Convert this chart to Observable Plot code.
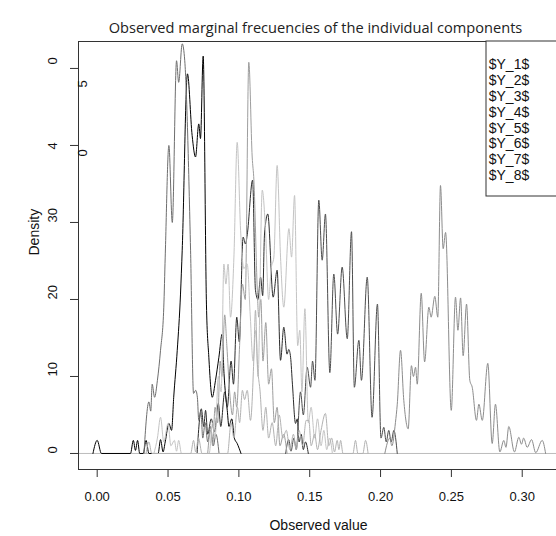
<!DOCTYPE html>
<html><head><meta charset="utf-8">
<script src="https://cdn.jsdelivr.net/npm/d3@7"></script>
<script src="https://cdn.jsdelivr.net/npm/@observablehq/plot@0.6"></script>
<style>
html,body{margin:0;padding:0;background:#fff;}
#chart{width:556px;height:536px;overflow:hidden;position:relative;}
#chart svg{max-width:none !important;}
</style></head><body><div id="chart"></div>
<script>
// ---- data ----
const seriesNames = ["$Y_1$","$Y_2$","$Y_3$","$Y_4$","$Y_5$","$Y_6$","$Y_7$","$Y_8$"];
const seriesColors = ["#000000","#2b2b2b","#4d4d4d","#8c8c8c","#6e6e6e","#9e9e9e","#c4c4c4","#b2b2b2"];

// [observed value, density] vertices at peaks and troughs
const Y1 = [[-0.003,0],[0,1.7],[0.003,0],[0.0235,0],[0.0255,1.7],[0.027,0.4],[0.0285,1.7],[0.030,0],[0.0325,0],[0.0345,1.7],[0.0365,0],[0.043,0],[0.0447,1.8],[0.0465,0.2],[0.048,1.5],[0.0506,3.9],[0.0525,3],[0.054,7.3],[0.0565,13.4],[0.0588,20.7],[0.060,26.4],[0.0637,49.3],[0.067,41.3],[0.0694,38.5],[0.0717,42.8],[0.0729,40.9],[0.0748,51.6],[0.0771,19.4],[0.0788,12.5],[0.0812,7.3],[0.0835,9.5],[0.0859,12.5],[0.0882,15.5],[0.0895,10.4],[0.0918,5.6],[0.093,3.5],[0.095,4.5],[0.0968,2],[0.0988,1.3],[0.1015,0]];
const Y2 = [[0.0705,0],[0.0735,5.8],[0.0752,3.5],[0.0765,5.6],[0.078,2.5],[0.0805,4.5],[0.0828,2.8],[0.0855,6.5],[0.0872,3.5],[0.090,8],[0.0918,6],[0.0945,12],[0.0962,9],[0.0985,17.7],[0.1003,14.5],[0.103,28.1],[0.1047,27.2],[0.1059,28.4],[0.1097,35.5],[0.1117,21.2],[0.1135,20],[0.1153,22.9],[0.1168,20.5],[0.1181,28.5],[0.1204,31.1],[0.1242,20.3],[0.127,23.8],[0.1294,12.1],[0.1317,16.4],[0.134,12.9],[0.1352,13.5],[0.1365,12.5],[0.1378,9],[0.140,3.9],[0.1412,4.5],[0.1425,1.5],[0.144,2.5],[0.1455,0.5],[0.147,1.5],[0.149,0]];
const Y3 = [[0.133,0],[0.1352,1.8],[0.1368,0.3],[0.1388,2],[0.1405,0.5],[0.1435,8],[0.1455,5],[0.1482,11.2],[0.1506,8.6],[0.152,12],[0.1537,9.5],[0.1564,32.9],[0.1588,25.1],[0.1611,31.1],[0.1642,10.5],[0.167,23.3],[0.1697,15.5],[0.1729,24.2],[0.1765,14.9],[0.1795,28.8],[0.1815,8.6],[0.1847,14.7],[0.1865,9.5],[0.1906,22.9],[0.194,4.7],[0.1978,19.4],[0.2003,2],[0.2023,3.4],[0.204,1.5],[0.2058,3],[0.2075,1.5],[0.2094,3],[0.2118,0]];
const Y4 = [[0.203,0],[0.2065,2],[0.208,1],[0.2105,4],[0.2118,6.4],[0.2141,13.4],[0.2164,6.9],[0.2195,3.2],[0.2218,11.4],[0.2232,10],[0.2247,11.2],[0.2259,9],[0.2287,20.8],[0.2311,11.9],[0.2341,19],[0.2357,17.7],[0.2383,20.4],[0.2404,17.7],[0.2423,34.8],[0.2442,26.6],[0.2459,28.7],[0.2499,5.6],[0.2529,20.3],[0.2546,16],[0.2565,20.2],[0.2583,12.7],[0.2607,19.4],[0.263,9.5],[0.2647,8.6],[0.2677,4.3],[0.2694,6.4],[0.2718,4.3],[0.2757,11.7],[0.2788,1.3],[0.2811,6.4],[0.2842,0.2],[0.287,1.7],[0.2885,0.8],[0.2905,3.5],[0.2945,0.2],[0.2976,2.1],[0.2995,1.2],[0.301,2],[0.3035,0.8],[0.3066,1.8],[0.3095,0.1],[0.3141,1.7],[0.3165,0]];
const Y5 = [[0.033,0],[0.0365,6.7],[0.0378,5.5],[0.0388,9],[0.0405,7.3],[0.0425,9.5],[0.0447,13.4],[0.047,19],[0.048,25.5],[0.0506,40],[0.053,30],[0.056,51],[0.0575,48.2],[0.060,53.2],[0.0618,51],[0.0659,26.4],[0.068,7.8],[0.0695,8.2],[0.0707,7.3],[0.0717,4.3],[0.0732,5.5],[0.0745,2],[0.0762,4],[0.078,1.5],[0.080,3.5],[0.082,1],[0.0838,2.5],[0.086,0]];
const Y6 = [[0.078,0],[0.080,3],[0.0815,1],[0.0832,6],[0.085,4],[0.0868,12],[0.088,10],[0.090,18],[0.0915,14],[0.0935,8],[0.0955,5],[0.097,8],[0.0985,6],[0.1005,14],[0.1025,22],[0.1045,20],[0.107,50.8],[0.1094,38.5],[0.1106,35.5],[0.113,21.2],[0.114,17.7],[0.1155,20],[0.117,12],[0.119,17],[0.121,9],[0.123,11],[0.125,4],[0.127,6],[0.129,1],[0.1315,2.5],[0.134,0]];
const Y7 = [[0.040,0],[0.0425,2],[0.0447,4.7],[0.047,1.5],[0.050,3.9],[0.052,1],[0.0545,1.7],[0.056,0.3],[0.0575,1.7],[0.0595,0],[0.079,0],[0.0815,4],[0.0832,2],[0.0855,10],[0.0875,8],[0.0894,24.6],[0.0908,22],[0.0924,24.6],[0.0941,17.7],[0.0965,25.5],[0.0988,40.4],[0.1012,29],[0.1035,24],[0.1059,24.6],[0.108,18],[0.110,12],[0.112,16],[0.1135,10],[0.1165,34.2],[0.1188,29],[0.121,20],[0.1228,24],[0.1247,25.5],[0.127,37.4],[0.1294,25.5],[0.1317,19],[0.1353,29.2],[0.1372,25.5],[0.1393,33.5],[0.1415,14],[0.143,16],[0.1445,8],[0.1466,18.8],[0.149,4],[0.151,6],[0.1535,2],[0.1555,4.5],[0.158,1],[0.160,3],[0.162,0.5],[0.164,2],[0.166,0]];
const Y8 = [[0.0345,0],[0.0365,1.5],[0.0385,0],[0.066,0],[0.068,1.7],[0.0695,0.2],[0.0715,2],[0.074,0],[0.092,0],[0.0945,4],[0.0965,2],[0.099,6],[0.1005,4],[0.1025,8.2],[0.104,7],[0.1059,8.2],[0.1082,4.3],[0.1105,12],[0.1117,18.6],[0.113,12],[0.115,8],[0.117,3],[0.119,6],[0.121,2],[0.1235,4],[0.126,1],[0.1285,5],[0.131,2],[0.1335,3],[0.136,0.5],[0.1385,2.5],[0.1405,0.5],[0.1425,3],[0.145,1],[0.1475,4.3],[0.1494,4.3],[0.151,1],[0.1535,2.5],[0.1555,0.5],[0.158,3],[0.1611,5.2],[0.1635,1],[0.1655,2],[0.1675,0.2],[0.1694,1.7],[0.1706,0.5],[0.1718,1.7],[0.1735,0],[0.1805,0],[0.1823,1.7],[0.184,0],[0.1875,0],[0.1894,1.7],[0.1912,0]];

const xTicks = [0, 0.05, 0.10, 0.15, 0.20, 0.25, 0.30];
const yTicks = [0, 10, 20, 30, 40, 50];
const yPlainTicks = [0, 10, 20, 30];
// the reference shows the "40" and "50" tick labels with their digits displaced
const yGlitch = [
  {tick: 50, ch: "0", dx: -26, dy: -4},
  {tick: 50, ch: "5", dx: 4, dy: 19},
  {tick: 40, ch: "4", dx: -26, dy: 4},
  {tick: 40, ch: "0", dx: 4, dy: 11}
];
const title = "Observed marginal frecuencies of the individual components";
const xLabel = "Observed value";
const yLabel = "Density";

// ---- chart ----
const seriesData = [Y1, Y2, Y3, Y4, Y5, Y6, Y7, Y8];
const axisFont = "'Liberation Sans', Arial, Helvetica, sans-serif";

const plot = Plot.plot({
  width: 600, height: 536,
  marginLeft: 78, marginRight: 42, marginTop: 41, marginBottom: 67,
  style: {fontFamily: axisFont, fontSize: "13px", color: "#111", background: "#fff"},
  x: {domain: [-0.0132, 0.3256]},
  y: {domain: [-2.08, 53.5]},
  marks: [
    Plot.ruleY([0], {stroke: "#bdbdbd", strokeWidth: 1}),
    ...seriesData.map((pts, i) => Plot.line(pts, {
      x: d => d[0], y: d => d[1],
      stroke: seriesColors[i], strokeWidth: 1, curve: "monotone-x", clip: true
    })),
    Plot.frame({stroke: "#333"}),
    Plot.axisX({ticks: xTicks, tickSize: 8, tickPadding: 14, tickFormat: d3.format(".2f"), label: null, stroke: "#333"}),
    Plot.axisY({ticks: yTicks, tickSize: 8, tickFormat: () => "", label: null, stroke: "#333"}),
    Plot.text(yPlainTicks, {y: d => d, text: d => String(d), frameAnchor: "left", dx: -26, rotate: -90, fill: "#111"}),
    ...yGlitch.map(g => Plot.text([g], {y: "tick", text: "ch", frameAnchor: "left", dx: g.dx, dy: g.dy, rotate: -90, fill: "#111"})),
    Plot.text([title], {text: d => d, frameAnchor: "top", dy: -19, dx: -3, fontFamily: "'Open Sans', sans-serif", fontSize: 14.6, fill: "#222"}),
    Plot.text([xLabel], {text: d => d, frameAnchor: "bottom", dy: 60, fontSize: 14, fill: "#111"}),
    Plot.text([yLabel], {text: d => d, frameAnchor: "left", dx: -44, rotate: -90, fontSize: 14, fill: "#111"})
  ]
});
plot.style.maxWidth = "none";
plot.style.width = "600px";
plot.style.height = "536px";

// legend box (top-right, as drawn by R's legend())
const svg = d3.select(plot);
const lg = svg.append("g").attr("font-family", axisFont).attr("font-size", "14px").attr("fill", "#111");
lg.append("rect").attr("x", 486).attr("y", 41).attr("width", 72).attr("height", 155)
  .attr("fill", "#fff").attr("stroke", "#333");
seriesNames.forEach((n, i) => {
  lg.append("text").attr("x", 509).attr("y", 64 + 15.9 * i).attr("dy", "0.35em").text(n);
});

document.getElementById("chart").appendChild(plot);
</script>
</body></html>
